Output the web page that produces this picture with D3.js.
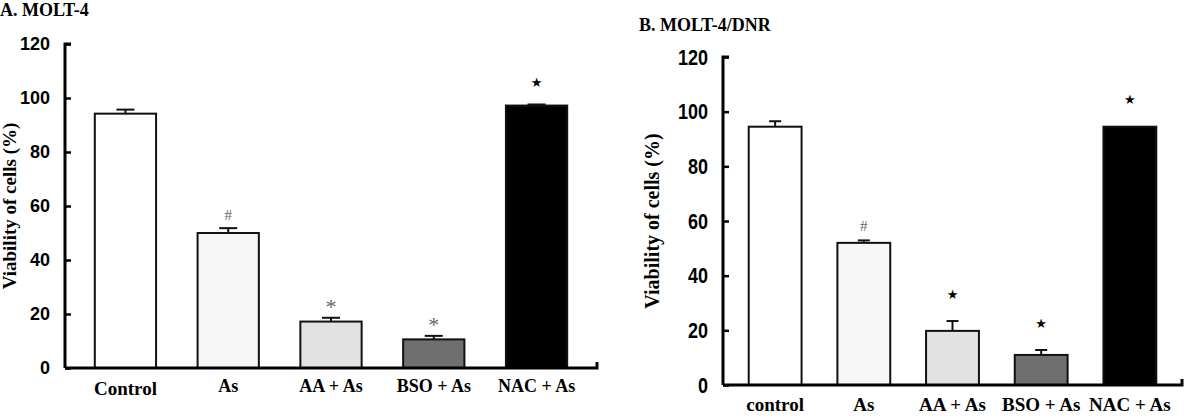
<!DOCTYPE html>
<html>
<head>
<meta charset="utf-8">
<script src="https://cdn.jsdelivr.net/npm/d3@7"></script>
<style>
	body { margin: 0; background: #fff; }
	svg { display: block; }
	.tick-label { font-family: "Liberation Sans", Arial, sans-serif; font-weight: bold; }
	.serif { font-family: "Liberation Serif", "Times New Roman", serif; font-weight: bold; }
</style>
</head>
<body>
<svg id="mainsvg" width="1185" height="420"></svg>
<script>
// panel A: MOLT-4
var catsA = ["Control", "As", "AA + As", "BSO + As", "NAC + As"];
var valsA = [94.2, 50, 17.2, 10.6, 97.2];
var errsA = [1.5, 1.8, 1.4, 1.3, 0.4];
var marksA = ["", "#", "*", "*", "\u2605"];

// panel B: MOLT-4/DNR
var catsB = ["control", "As", "AA + As", "BSO + As", "NAC + As"];
var valsB = [94.5, 52, 19.8, 11, 94.5];
var errsB = [2, 0.9, 3.6, 1.8, 0];
var marksB = ["", "#", "\u2605", "\u2605", "\u2605"];

var yTicks = [0, 20, 40, 60, 80, 100, 120];
var fills = ["#ffffff", "#f6f6f6", "#e2e2e2", "#6f6f6f", "#000000"];

var svg = d3.select("#mainsvg");

function drawPanel(cfg) {
	var g = svg.append("g");

	var x = d3.scaleBand()
		.domain(cfg.cats)
		.range([cfg.x0, cfg.x1])
		.paddingInner(0.404)
		.paddingOuter(0.29);

	var y = d3.scaleLinear()
		.domain([0, 120])
		.range([cfg.y0, cfg.y1]);

	// title
	g.append("text")
		.attr("class", "serif")
		.attr("x", cfg.titleX)
		.attr("y", cfg.titleY)
		.attr("font-size", 18)
		.text(cfg.title);

	// y axis, ticks point inward
	var yAxis = d3.axisRight(y)
		.tickValues(yTicks)
		.tickSize(6)
		.tickFormat("");
	var ya = g.append("g")
		.attr("transform", "translate(" + cfg.x0 + ",0)")
		.call(yAxis);
	ya.select(".domain").attr("stroke-width", 3).attr("d", "M6," + y(120) + "H0V" + y(0));
	ya.selectAll(".tick line").attr("stroke-width", 2.5);

	g.selectAll(".yl")
		.data(yTicks)
		.enter().append("text")
		.attr("class", "tick-label")
		.attr("text-anchor", "end")
		.attr("font-size", cfg.tickFont)
		.attr("transform", function(d) {
			return "translate(" + (cfg.x0 - 15) + "," + y(d) + ") scale(1," + cfg.stretch + ")";
		})
		.attr("dy", "0.36em")
		.text(function(d) { return d; });

	// y title
	g.append("text")
		.attr("class", "serif")
		.attr("font-size", cfg.ytFont)
		.attr("text-anchor", "middle")
		.attr("transform", "translate(" + cfg.ytX + "," + ((y(0) + y(120)) / 2) + ") rotate(-90)")
		.text("Viability of cells (%)");

	// bars
	g.selectAll(".bar")
		.data(cfg.vals)
		.enter().append("rect")
		.attr("x", function(d, i) { return x(cfg.cats[i]); })
		.attr("y", function(d) { return y(d); })
		.attr("width", x.bandwidth())
		.attr("height", function(d) { return y(0) - y(d); })
		.attr("fill", function(d, i) { return fills[i]; })
		.attr("stroke", "#111")
		.attr("stroke-width", 2);

	// error bars
	var eb = g.selectAll(".err")
		.data(cfg.vals)
		.enter().append("g")
		.filter(function(d, i) { return cfg.errs[i] > 0; });
	eb.append("line")
		.attr("x1", function(d, i) { return x(cfg.cats[i]) + x.bandwidth() / 2; })
		.attr("x2", function(d, i) { return x(cfg.cats[i]) + x.bandwidth() / 2; })
		.attr("y1", function(d) { return y(d); })
		.attr("y2", function(d, i) { return y(d + cfg.errs[i]); })
		.attr("stroke", "#111")
		.attr("stroke-width", 2);
	eb.append("line")
		.attr("x1", function(d, i) { return x(cfg.cats[i]) + x.bandwidth() / 2 - cfg.cap; })
		.attr("x2", function(d, i) { return x(cfg.cats[i]) + x.bandwidth() / 2 + cfg.cap; })
		.attr("y1", function(d, i) { return y(d + cfg.errs[i]); })
		.attr("y2", function(d, i) { return y(d + cfg.errs[i]); })
		.attr("stroke", "#111")
		.attr("stroke-width", 2);

	// significance marks
	g.selectAll(".mark")
		.data(cfg.vals)
		.enter().append("text")
		.attr("text-anchor", "middle")
		.attr("x", function(d, i) { return x(cfg.cats[i]) + x.bandwidth() / 2; })
		.attr("y", function(d, i) { return y(d + cfg.errs[i]) - cfg.gap[cfg.marks[i]]; })
		.attr("dy", "0.35em")
		.attr("font-family", function(d, i) { return cfg.marks[i] == "\u2605" ? "DejaVu Sans" : "Liberation Serif"; })
		.attr("font-size", function(d, i) { return cfg.marks[i] == "\u2605" ? 13 : (cfg.marks[i] == "*" ? 22 : 15); })
		.attr("fill", function(d, i) { return cfg.marks[i] == "\u2605" ? "#000" : "#666"; })
		.text(function(d, i) { return cfg.marks[i]; })
		.filter(function(d, i) { return cfg.marks[i] == "*"; })
		.attr("dy", "0.7em");

	// x axis with the small end tick
	g.append("path")
		.attr("d", "M" + cfg.x0 + "," + y(0) + "H" + cfg.x1 + "V" + (y(0) - 6))
		.attr("fill", "none")
		.attr("stroke", "#000")
		.attr("stroke-width", 3);

	g.selectAll(".xl")
		.data(cfg.cats)
		.enter().append("text")
		.attr("class", "serif")
		.attr("text-anchor", "middle")
		.attr("font-size", function(d, i) { return i == 0 ? cfg.firstFont : cfg.xFont; })
		.attr("x", function(d) { return x(d) + x.bandwidth() / 2; })
		.attr("y", function(d, i) { return i == 0 ? cfg.xlY + cfg.firstDrop : cfg.xlY; })
		.text(function(d) { return d; });
}

drawPanel({
	cats: catsA, vals: valsA, errs: errsA, marks: marksA,
	x0: 65, x1: 597, y0: 368, y1: 44,
	title: "A. MOLT-4", titleX: 0, titleY: 16,
	tickFont: 18, stretch: 1, ytFont: 19, ytX: 16,
	xFont: 18, firstFont: 19, xlY: 392, firstDrop: 3,
	cap: 9, gap: { "#": 13, "*": 19, "\u2605": 22, "": 0 }
});

drawPanel({
	cats: catsB, vals: valsB, errs: errsB, marks: marksB,
	x0: 723, x1: 1182, y0: 385, y1: 57,
	title: "B. MOLT-4/DNR", titleX: 639, titleY: 31,
	tickFont: 18, stretch: 1.2, ytFont: 20, ytX: 659,
	xFont: 19, firstFont: 19, xlY: 411, firstDrop: 0,
	cap: 6, gap: { "#": 15, "*": 24, "\u2605": 27, "": 0 }
});
</script>
</body>
</html>
